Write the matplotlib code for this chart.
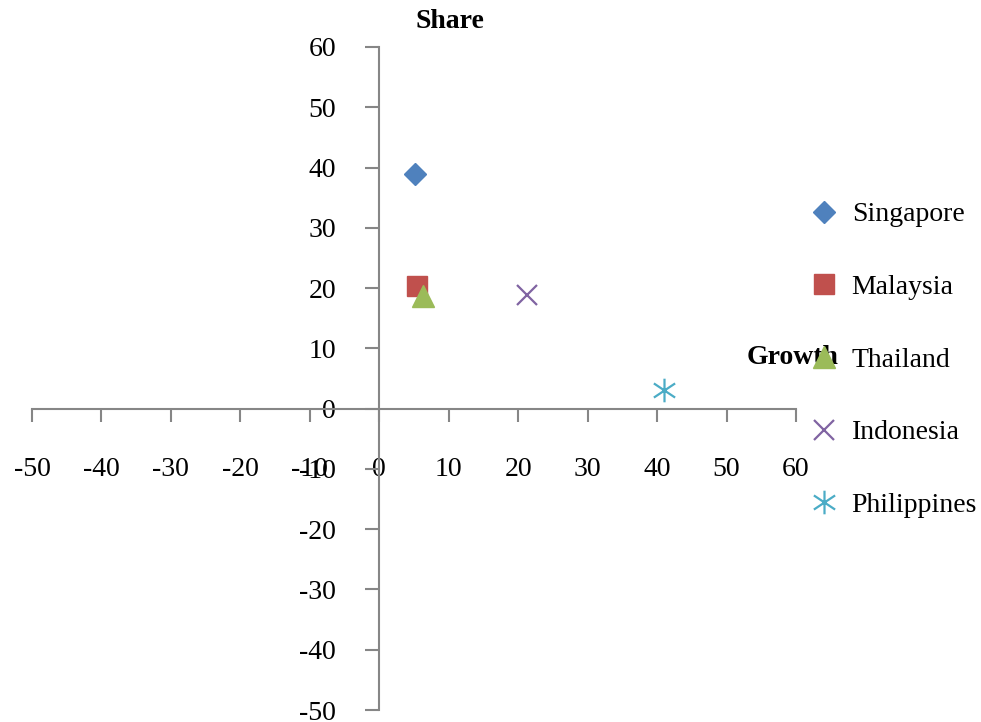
import matplotlib
matplotlib.use("Agg")
import matplotlib.pyplot as plt
from matplotlib.path import Path

plt.rcParams['font.family'] = ['Liberation Serif', 'DejaVu Serif']

countries = ["Singapore", "Malaysia", "Thailand", "Indonesia", "Philippines"]
growth = [5.1, 5.4, 6.3, 21.3, 41.0]
share = [38.9, 20.3, 18.7, 18.8, 3.1]
colors = ["#4F81BD", "#C0504D", "#9BBB59", "#8064A2", "#4BACC6"]
xticks = list(range(-50, 61, 10))
yticks = list(range(-50, 61, 10))

star = Path([(0, -1), (0, 1), (-0.9, -0.6), (0.9, 0.6), (-0.9, 0.6), (0.9, -0.6)],
            [Path.MOVETO, Path.LINETO, Path.MOVETO, Path.LINETO, Path.MOVETO, Path.LINETO])
markers = ["D", "s", "^", "x", star]
sizes = [11, 15, 16, 15, 17]
line_markers = [False, False, False, True, True]

fig = plt.figure(figsize=(9.81, 7.22), dpi=100)
ax = fig.add_axes([32/981, 1-710/722, (796-32)/981, (710-47)/722])
ax.set_xlim(-50, 60)
ax.set_ylim(-50, 60)

for c, gx, sy, col, m, s, lm in zip(countries, growth, share, colors, markers, sizes, line_markers):
    kw = dict(linestyle='none', marker=m, markersize=s, label=c)
    if lm:
        kw.update(color=col, markeredgewidth=1.6)
    else:
        kw.update(color=col, markeredgecolor=col)
    ax.plot([gx], [sy], **kw)

gray = "#868686"
for sp in ("top", "right"):
    ax.spines[sp].set_visible(False)
ax.spines["left"].set_position(("data", 0))
ax.spines["bottom"].set_position(("data", 0))
for sp in ("left", "bottom"):
    ax.spines[sp].set_color(gray)
    ax.spines[sp].set_linewidth(1.5)

ax.set_xticks(xticks)
ax.set_yticks(yticks)
ax.set_xticklabels([str(v) for v in xticks])
ax.set_yticklabels([str(v) for v in yticks])
ax.tick_params(axis='x', direction='out', length=9, width=1.5, color=gray,
               labelsize=20, pad=26)
ax.tick_params(axis='y', direction='out', length=10, width=1.5, color=gray,
               labelsize=20, pad=21)

ax.set_xlabel("Growth", fontsize=20, fontweight='bold')
ax.xaxis.set_label_coords((793-32)/764, (710-357)/663)
ax.xaxis.label.set_va('center')
ax.xaxis.label.set_ha('center')
ax.set_ylabel("Share", fontsize=20, fontweight='bold', rotation=0)
ax.yaxis.set_label_coords((450-32)/764, (710-22)/663)
ax.yaxis.label.set_va('center')
ax.yaxis.label.set_ha('center')

leg = ax.legend(loc='upper left', bbox_to_anchor=(810/981, 1-202/722),
                bbox_transform=fig.transFigure, frameon=False, fontsize=20,
                labelspacing=1.7, handlelength=1.0, handletextpad=0.5,
                borderpad=0, borderaxespad=0)

fig.savefig("out.png", dpi=100)
